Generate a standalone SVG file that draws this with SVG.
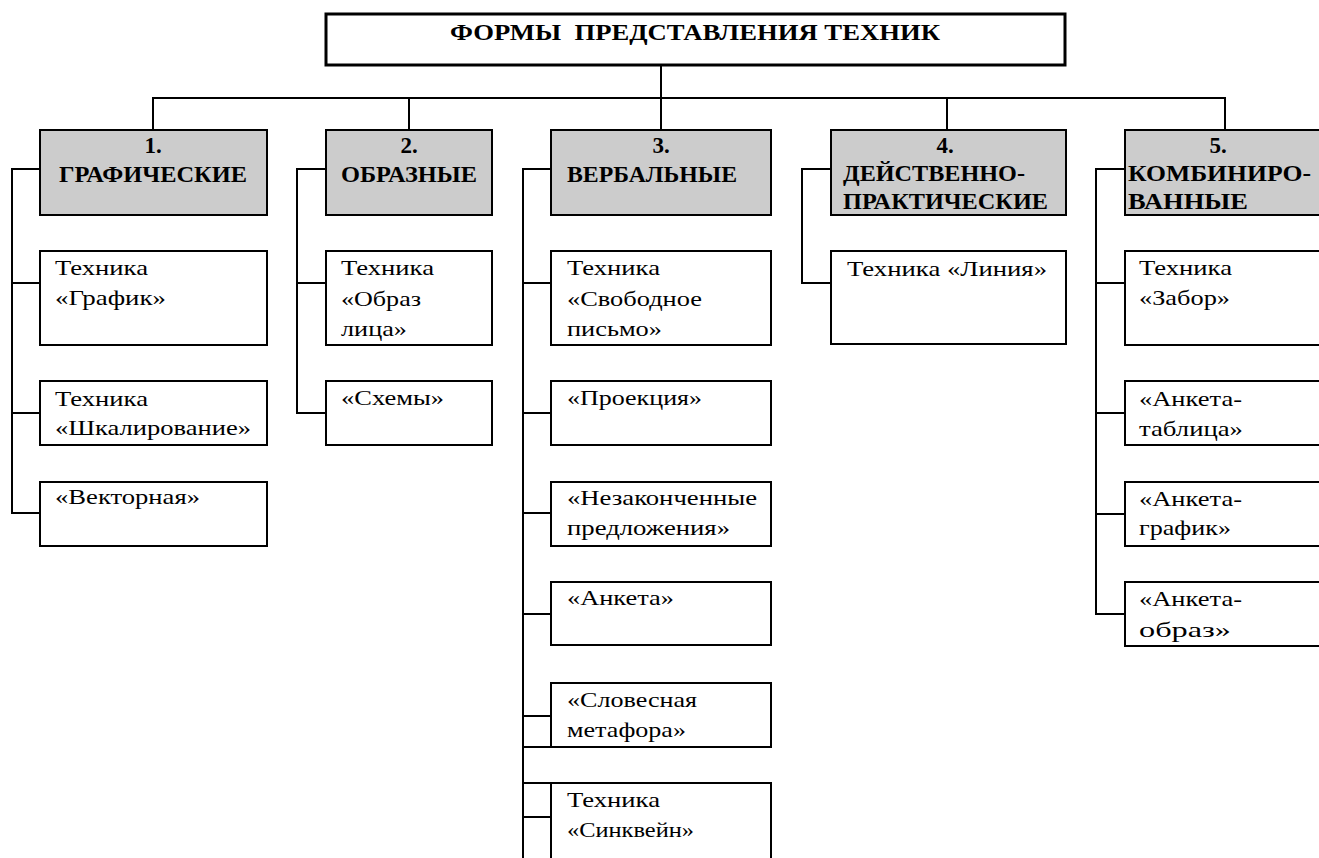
<svg xmlns="http://www.w3.org/2000/svg" width="1319" height="858" viewBox="0 0 1319 858">
<style>
.bg{fill:#fff}
.box{fill:#fff;stroke:#000;stroke-width:2}
.hdr{fill:#cccccc;stroke:#000;stroke-width:2}
.ttl{fill:#fff;stroke:#000;stroke-width:3}
.ln{stroke:#000;stroke-width:2;fill:none}
text{font-family:"Liberation Serif","Times New Roman",serif;fill:#000}
.t{font-size:22px}
.b{font-size:23px;font-weight:bold}
.c{text-anchor:middle}
</style>
<rect class="bg" x="0" y="0" width="1319" height="858"/>
<g id="connectors">
<path class="ln" d="M661 65V130M153 130V98H1225V130M409 98V130M947 98V130"/>
<path class="ln" d="M40 169H12V513H40M12 283H40M12 413H40"/>
<path class="ln" d="M326 169H297V413H326M297 283H326"/>
<path class="ln" d="M551 169H523V860M523 283H551M523 413H551M523 513H551M523 614H551M523 716H551M523 747H551M523 783H551M523 817H551"/>
<path class="ln" d="M831 169H802V283H831"/>
<path class="ln" d="M1125 169H1096V614H1125M1096 283H1125M1096 413H1125M1096 514H1125"/>
</g>
<g id="root">
<rect class="ttl" x="326" y="14" width="739" height="51"/>
<text class="b" x="450" y="40" xml:space="preserve" textLength="490" lengthAdjust="spacingAndGlyphs">ФОРМЫ  ПРЕДСТАВЛЕНИЯ ТЕХНИК</text>
</g>
<g id="h1">
<rect class="hdr" x="40" y="130" width="227" height="85"/>
<text class="b c" x="153" y="153">1.</text>
<text class="b" x="59" y="182" textLength="188" lengthAdjust="spacingAndGlyphs">ГРАФИЧЕСКИЕ</text>
</g>
<g id="h2">
<rect class="hdr" x="326" y="130" width="166" height="85"/>
<text class="b c" x="409" y="153">2.</text>
<text class="b" x="341" y="182" textLength="136" lengthAdjust="spacingAndGlyphs">ОБРАЗНЫЕ</text>
</g>
<g id="h3">
<rect class="hdr" x="551" y="130" width="220" height="85"/>
<text class="b c" x="661" y="153">3.</text>
<text class="b" x="567" y="182" textLength="170" lengthAdjust="spacingAndGlyphs">ВЕРБАЛЬНЫЕ</text>
</g>
<g id="h4">
<rect class="hdr" x="831" y="130" width="235" height="85"/>
<text class="b c" x="945" y="153">4.</text>
<text class="b" x="843" y="181" textLength="182" lengthAdjust="spacingAndGlyphs">ДЕЙСТВЕННО-</text>
<text class="b" x="843" y="209" textLength="205" lengthAdjust="spacingAndGlyphs">ПРАКТИЧЕСКИЕ</text>
</g>
<g id="h5">
<rect class="hdr" x="1125" y="130" width="210" height="85"/>
<text class="b c" x="1218" y="153">5.</text>
<text class="b" x="1128" y="181" textLength="183" lengthAdjust="spacingAndGlyphs">КОМБИНИРО-</text>
<text class="b" x="1128" y="209" textLength="120" lengthAdjust="spacingAndGlyphs">ВАННЫЕ</text>
</g>
<g id="c1a"><rect class="box" x="40" y="251" width="227" height="94"/>
<text class="t" x="55" y="275" textLength="93" lengthAdjust="spacingAndGlyphs">Техника</text><text class="t" x="55" y="305" textLength="111" lengthAdjust="spacingAndGlyphs">«График»</text></g>
<g id="c1b"><rect class="box" x="40" y="381" width="227" height="64"/>
<text class="t" x="55" y="406" textLength="93" lengthAdjust="spacingAndGlyphs">Техника</text><text class="t" x="55" y="435" textLength="196" lengthAdjust="spacingAndGlyphs">«Шкалирование»</text></g>
<g id="c1c"><rect class="box" x="40" y="482" width="227" height="64"/>
<text class="t" x="55" y="504" textLength="145" lengthAdjust="spacingAndGlyphs">«Векторная»</text></g>
<g id="c2a"><rect class="box" x="326" y="251" width="166" height="94"/>
<text class="t" x="341" y="275" textLength="93" lengthAdjust="spacingAndGlyphs">Техника</text><text class="t" x="341" y="306" textLength="80" lengthAdjust="spacingAndGlyphs">«Образ</text><text class="t" x="341" y="336" textLength="66" lengthAdjust="spacingAndGlyphs">лица»</text></g>
<g id="c2b"><rect class="box" x="326" y="381" width="166" height="64"/>
<text class="t" x="341" y="405" textLength="103" lengthAdjust="spacingAndGlyphs">«Схемы»</text></g>
<g id="c3a"><rect class="box" x="551" y="251" width="220" height="94"/>
<text class="t" x="567" y="275" textLength="93" lengthAdjust="spacingAndGlyphs">Техника</text><text class="t" x="567" y="306" textLength="135" lengthAdjust="spacingAndGlyphs">«Свободное</text><text class="t" x="567" y="336" textLength="95" lengthAdjust="spacingAndGlyphs">письмо»</text></g>
<g id="c3b"><rect class="box" x="551" y="381" width="220" height="64"/>
<text class="t" x="567" y="405" textLength="135" lengthAdjust="spacingAndGlyphs">«Проекция»</text></g>
<g id="c3c"><rect class="box" x="551" y="482" width="220" height="64"/>
<text class="t" x="567" y="505" textLength="190" lengthAdjust="spacingAndGlyphs">«Незаконченные</text><text class="t" x="567" y="535" textLength="163" lengthAdjust="spacingAndGlyphs">предложения»</text></g>
<g id="c3d"><rect class="box" x="551" y="582" width="220" height="63"/>
<text class="t" x="567" y="605" textLength="107" lengthAdjust="spacingAndGlyphs">«Анкета»</text></g>
<g id="c3e"><rect class="box" x="551" y="683" width="220" height="64"/>
<text class="t" x="567" y="707" textLength="130" lengthAdjust="spacingAndGlyphs">«Словесная</text><text class="t" x="567" y="737" textLength="119" lengthAdjust="spacingAndGlyphs">метафора»</text></g>
<g id="c3f"><rect class="box" x="551" y="783" width="220" height="90"/>
<text class="t" x="567" y="807" textLength="93" lengthAdjust="spacingAndGlyphs">Техника</text><text class="t" x="567" y="837" textLength="127" lengthAdjust="spacingAndGlyphs">«Синквейн»</text></g>
<g id="c4a"><rect class="box" x="831" y="251" width="235" height="93"/>
<text class="t" x="847" y="276" textLength="200" lengthAdjust="spacingAndGlyphs">Техника «Линия»</text></g>
<g id="c5a"><rect class="box" x="1125" y="251" width="210" height="94"/>
<text class="t" x="1139" y="275" textLength="93" lengthAdjust="spacingAndGlyphs">Техника</text><text class="t" x="1139" y="305" textLength="91" lengthAdjust="spacingAndGlyphs">«Забор»</text></g>
<g id="c5b"><rect class="box" x="1125" y="381" width="210" height="64"/>
<text class="t" x="1139" y="406" textLength="103" lengthAdjust="spacingAndGlyphs">«Анкета-</text><text class="t" x="1139" y="436" textLength="104" lengthAdjust="spacingAndGlyphs">таблица»</text></g>
<g id="c5c"><rect class="box" x="1125" y="482" width="210" height="64"/>
<text class="t" x="1139" y="506" textLength="103" lengthAdjust="spacingAndGlyphs">«Анкета-</text><text class="t" x="1139" y="535" textLength="92" lengthAdjust="spacingAndGlyphs">график»</text></g>
<g id="c5d"><rect class="box" x="1125" y="582" width="210" height="64"/>
<text class="t" x="1139" y="606" textLength="103" lengthAdjust="spacingAndGlyphs">«Анкета-</text><text class="t" x="1139" y="637" textLength="92" lengthAdjust="spacingAndGlyphs">образ»</text></g>
</svg>
